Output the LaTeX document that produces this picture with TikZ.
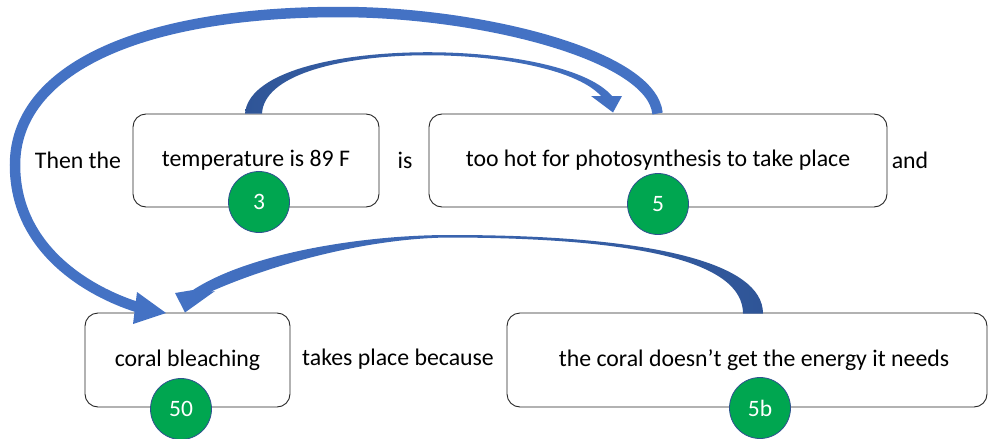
\documentclass[tikz,border=0pt]{standalone}
\usepackage{fontspec}
\setmainfont{Carlito}
\usetikzlibrary{calc}

\definecolor{arrowblue}{RGB}{68,114,196}
\definecolor{arrowdark}{RGB}{47,85,151}
\definecolor{badgegreen}{RGB}{0,166,80}
\definecolor{badgeline}{RGB}{47,82,143}

\begin{document}
\begin{tikzpicture}[x=1pt,y=-1pt,
  txt/.style={font=\fontsize{23.8}{28}\selectfont, inner sep=0pt},
  card/.style={txt, draw=black!85, line width=0.9pt, rounded corners=13pt},
  badge/.style={circle, draw=badgeline, line width=0.8pt, fill=badgegreen,
    text=white, minimum size=61pt, inner sep=0pt,
    font=\fontsize{23.5}{28}\selectfont},
  bigarrow/.style={draw=arrowblue, line width=10.5pt}]

\useasboundingbox (0,0) rectangle (989,439);

% sentence pieces between the cards
\node[txt] (then) at (78,160) {Then the};
\node[txt] (is)   at (405,160) {is};
\node[txt] (and)  at (910,160) {and};
\node[txt] (because) at (398,359) {takes place because};

% cards
\node[card, minimum width=246pt, minimum height=93pt] (temp) at (256,160.5) {temperature is 89 F};
\node[card, minimum width=458pt, minimum height=93pt] (hot) at (658,160.5) {too hot for photosynthesis to take place};
\node[card, minimum width=205pt, minimum height=94pt] (bleach) at (187.5,360) {coral bleaching};
\node[card, minimum width=480pt, minimum height=94pt] (energy) at (747,360) {\hspace*{14pt}the coral doesn’t get the energy it needs};

% anchor points of the connectors
\coordinate (hotbase) at ($(hot.north west)+(229,0)$);
\coordinate (bleachtip) at (137,307);

% long arrow: from the "too hot" card round the left side to coral bleaching
\draw[bigarrow] (hotbase) .. controls (652,55) and (480,12) .. (340,12)
  .. controls (138,12) and (15,70) .. (15,165)
  .. controls (15,250) and (90,292) .. (bleachtip);
\fill[arrowblue] (137,292) -- (166,313) -- (133,324) -- cycle;

% curved arrow: temperature -> too hot
\shade[left color=arrowdark, right color=arrowblue]
  (245,113.5) .. controls (252,35) and (560,35) .. (612,96)
  -- (622,96) -- (613,112.5) -- (591,96) -- (601,96)
  .. controls (550,40) and (266,38) .. (262,113.5) -- cycle;

% curved arrow: energy -> coral bleaching
\shade[left color=arrowblue, right color=arrowdark]
  (763,313.5) .. controls (763,263) and (653,235) .. (450,235)
  .. controls (360,235) and (248,254) .. (193,290)
  -- (175,293) -- (185,312.5) -- (215,291) -- (210,292)
  .. controls (268,266) and (365,238) .. (450,237.5)
  .. controls (640,238) and (743,262) .. (743,313.5) -- cycle;

% number badges
\node[badge] (b3)  at (259,202) {3};
\node[badge] (b5)  at (658,204) {5};
\node[badge] (b50) at (181,409) {50};
\node[badge] (b5b) at (760,408) {5b};

\end{tikzpicture}
\end{document}
